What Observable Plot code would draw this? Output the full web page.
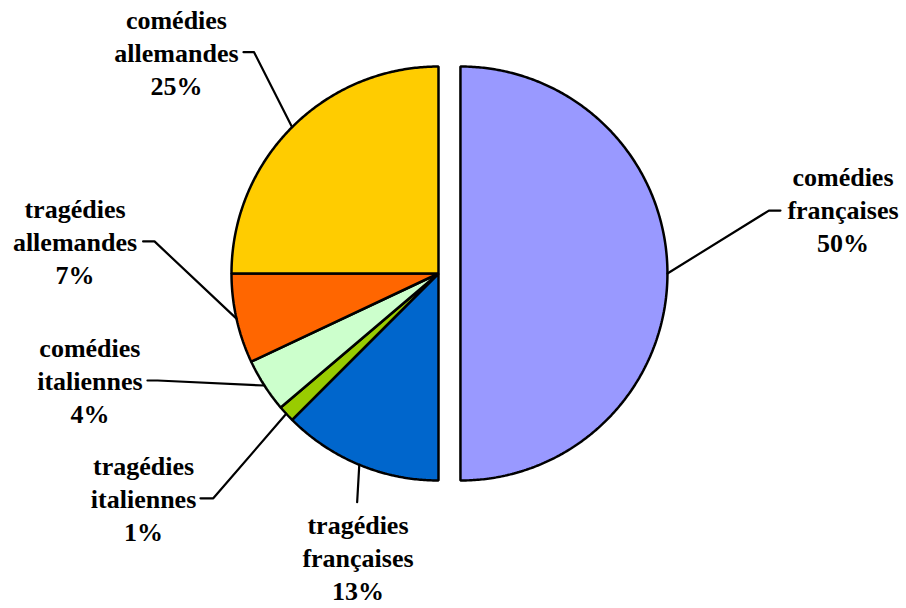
<!DOCTYPE html>
<html>
<head>
<meta charset="utf-8">
<script src="https://cdn.jsdelivr.net/npm/d3@7"></script>
<script src="https://cdn.jsdelivr.net/npm/@observablehq/plot@0.6"></script>
<style>
  html, body { margin: 0; padding: 0; background: #fff; }
  #chart { width: 906px; height: 608px; font-family: "Liberation Serif", serif; }
</style>
</head>
<body>
<div id="chart"></div>
<script>
// ---- data ----
const categories = [
  "comédies françaises",
  "tragédies françaises",
  "tragédies italiennes",
  "comédies italiennes",
  "tragédies allemandes",
  "comédies allemandes"
];
const values = [50, 12.5, 1.3, 4.2, 7, 25];
const colors = ["#9999FF", "#0066CC", "#99CC00", "#CCFFCC", "#FF6600", "#FFCC00"];
const explode = [0.106, 0, 0, 0, 0, 0]; // in pie-radius units

// ---- layout (pie-radius units, origin at pie centre, y up) ----
// label centre, leader start, leader elbow
const labelLayout = [
  {lx: 1.954, ly: 0.314, sx: 1.652, sy: 0.304, ex: 1.596, ey: 0.304},
  {lx: -0.389, ly: -1.367, sx: -0.393, sy: -1.105, ex: -0.393, ey: -1.105},
  {lx: -1.425, ly: -1.082, sx: -1.150, sy: -1.086, ex: -1.088, ey: -1.086},
  {lx: -1.684, ly: -0.512, sx: -1.406, sy: -0.517, ex: -1.357, ey: -0.517},
  {lx: -1.756, ly: 0.159, sx: -1.427, sy: 0.155, ex: -1.372, ey: 0.155},
  {lx: -1.266, ly: 1.075, sx: -0.942, sy: 1.069, ex: -0.891, ey: 1.069}
];

const W = 906, H = 608, R = 207, CX = 438, CY = 273;
const FONT = "Liberation Serif";

const total = d3.sum(values);
const pie = d3.pie().sort(null).value(d => d)(values);

// slice outlines
const slicePts = [];
pie.forEach((p, i) => {
  const mid = (p.startAngle + p.endAngle) / 2;
  const ox = explode[i] * Math.sin(mid), oy = explode[i] * Math.cos(mid);
  slicePts.push({cat: categories[i], x: ox, y: oy});
  const n = Math.max(2, Math.ceil((p.endAngle - p.startAngle) / (Math.PI / 360)));
  for (let k = 0; k <= n; k++) {
    const a = p.startAngle + (p.endAngle - p.startAngle) * k / n;
    slicePts.push({cat: categories[i], x: ox + Math.sin(a), y: oy + Math.cos(a)});
  }
});

// leader lines
const leaderPts = [];
pie.forEach((p, i) => {
  const mid = (p.startAngle + p.endAngle) / 2;
  const ox = explode[i] * Math.sin(mid), oy = explode[i] * Math.cos(mid);
  const L = labelLayout[i];
  leaderPts.push({cat: categories[i], x: L.sx, y: L.sy});
  leaderPts.push({cat: categories[i], x: L.ex, y: L.ey});
  leaderPts.push({cat: categories[i], x: ox + Math.sin(mid), y: oy + Math.cos(mid)});
});

const labels = categories.map((c, i) => ({
  cat: c,
  text: c.replace(" ", "\n") + "\n" + Math.round(values[i] / total * 100) + "%",
  x: labelLayout[i].lx,
  y: labelLayout[i].ly
}));

const chart = Plot.plot({
  width: W,
  height: H,
  margin: 0,
  x: {domain: [-CX / R, (W - CX) / R], axis: null},
  y: {domain: [-(H - CY) / R, CY / R], axis: null},
  color: {domain: categories, range: colors},
  style: {fontFamily: FONT},
  marks: [
    Plot.line(slicePts, {
      x: "x", y: "y", z: "cat", fill: "cat",
      stroke: "#000", strokeWidth: 2.5, curve: "linear-closed", strokeLinejoin: "miter"
    }),
    Plot.line(leaderPts, {
      x: "x", y: "y", z: "cat", stroke: "#000", strokeWidth: 2.2, fill: "none"
    }),
    Plot.text(labels, {
      x: "x", y: "y", text: "text",
      fontFamily: FONT,
      fontWeight: "bold", fontSize: 26, lineHeight: 1.27,
      fill: "#000", textAnchor: "middle"
    })
  ]
});
document.getElementById("chart").appendChild(chart);
</script>
</body>
</html>
